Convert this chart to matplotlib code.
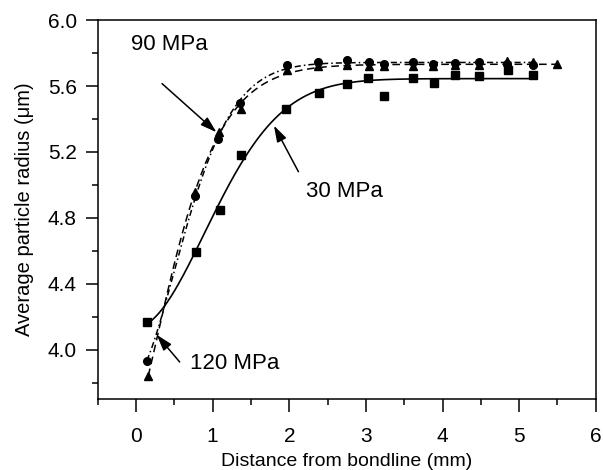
import matplotlib
matplotlib.use("Agg")
import matplotlib.pyplot as plt
import numpy as np

plt.rcParams['font.family'] = ['Liberation Sans', 'DejaVu Sans']

# 30 MPa (squares)
x_30 = [0.15, 0.78, 1.09, 1.37, 1.96, 2.39, 2.76, 3.03, 3.24, 3.61, 3.89, 4.16, 4.47, 4.85, 5.18]
y_30 = [4.17, 4.59, 4.85, 5.18, 5.46, 5.56, 5.61, 5.65, 5.54, 5.65, 5.62, 5.67, 5.66, 5.70, 5.67]

# 90 MPa (circles)
x_90 = [0.14, 0.77, 1.07, 1.36, 1.97, 2.38, 2.75, 3.04, 3.24, 3.61, 3.88, 4.16, 4.48, 4.84, 5.18]
y_90 = [3.93, 4.93, 5.28, 5.50, 5.73, 5.745, 5.76, 5.745, 5.735, 5.745, 5.735, 5.74, 5.745, 5.735, 5.73]

# 120 MPa (triangles)
x_120 = [0.16, 0.77, 1.08, 1.37, 1.97, 2.38, 2.75, 3.04, 3.24, 3.61, 3.88, 4.16, 4.48, 4.84, 5.18, 5.50]
y_120 = [3.84, 4.96, 5.32, 5.46, 5.70, 5.72, 5.73, 5.72, 5.72, 5.72, 5.72, 5.73, 5.73, 5.75, 5.745, 5.735]


def fit_curve(x, y):
    # y = y0 + A*(1 - exp(-(x/c)^n)), brute force on c, n
    x = np.asarray(x)
    y = np.asarray(y)
    best = None
    for c in np.linspace(0.2, 3.0, 141):
        for n in np.linspace(0.5, 4.0, 71):
            g = 1 - np.exp(-(x / c) ** n)
            M = np.column_stack([np.ones_like(x), g])
            coef, *_ = np.linalg.lstsq(M, y, rcond=None)
            err = np.sum((M @ coef - y) ** 2)
            if best is None or err < best[0]:
                best = (err, c, n, coef)
    _, c, n, coef = best
    xs = np.linspace(x.min(), x.max(), 300)
    return xs, coef[0] + coef[1] * (1 - np.exp(-(xs / c) ** n))


fig = plt.figure(figsize=(6.03, 4.70), dpi=100)
ax = fig.add_axes([0.162, 0.151, 0.826, 0.806])

xs, ys = fit_curve(x_30, y_30)
ax.plot(xs, ys, color='black', lw=1.2)
xs, ys = fit_curve(x_90, y_90)
ax.plot(xs, ys, color='black', lw=1.1, dashes=(4, 2, 1, 2))
xs, ys = fit_curve(x_120, y_120)
ax.plot(xs, ys, color='black', lw=1.1, dashes=(5, 3))

ax.plot(x_30, y_30, 's', color='black', ms=5.5, ls='none')
ax.plot(x_90, y_90, 'o', color='black', ms=5.5, ls='none')
ax.plot(x_120, y_120, '^', color='black', ms=6, ls='none')

arrow = dict(arrowstyle='-|>,head_length=0.7,head_width=0.22', color='black', lw=1.1,
             mutation_scale=14, shrinkA=0, shrinkB=0)
ax.text(-0.07, 5.85, '90 MPa', fontsize=16, va='center', ha='left')
ax.annotate('', xy=(1.05, 5.32), xytext=(0.34, 5.615), arrowprops=arrow)
ax.text(2.22, 4.96, '30 MPa', fontsize=16, va='center', ha='left')
ax.annotate('', xy=(1.8, 5.36), xytext=(2.12, 5.08), arrowprops=arrow)
ax.text(0.71, 3.915, '120 MPa', fontsize=16, va='center', ha='left')
ax.annotate('', xy=(0.27, 4.09), xytext=(0.57, 3.925), arrowprops=arrow)

ax.set_xlim(-0.5, 6)
ax.set_ylim(3.7, 6.0)
ax.set_xticks(np.arange(0, 7, 1))
ax.set_xticks(np.arange(-0.5, 6.0, 1), minor=True)
ax.set_yticks(np.arange(4.0, 6.01, 0.4))
ax.set_yticks(np.arange(3.8, 6.0, 0.4), minor=True)
ax.set_yticklabels([f"{v:.1f}" for v in np.arange(4.0, 6.01, 0.4)])
ax.tick_params(which='major', direction='out', length=9, width=1.1, labelsize=15)
ax.tick_params(axis='x', which='major', pad=11)
ax.tick_params(axis='y', which='major', pad=6)
ax.tick_params(which='minor', direction='out', length=4.5, width=1.1)
for s in ax.spines.values():
    s.set_linewidth(1.1)

ax.set_xlabel('Distance from bondline (mm)', fontsize=14, labelpad=5)
ax.set_ylabel('Average particle radius (\u03bcm)', fontsize=14.5, labelpad=10)

fig.savefig('out.png', dpi=100)
